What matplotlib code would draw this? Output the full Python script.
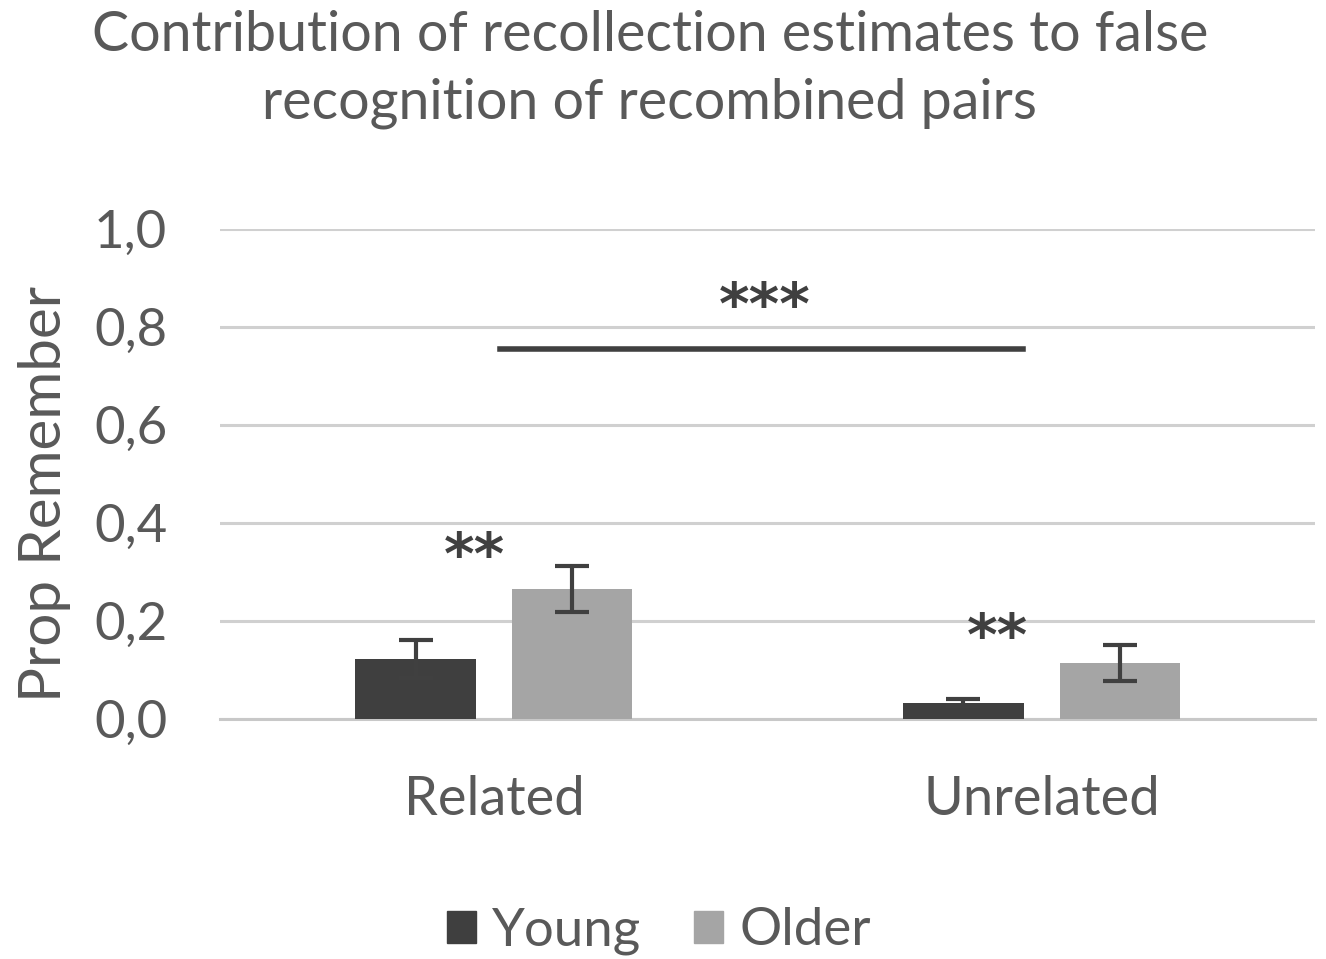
import matplotlib
matplotlib.use("Agg")
import matplotlib.pyplot as plt
import numpy as np
from matplotlib.patches import Patch

categories = ["Related", "Unrelated"]
young = [0.122, 0.033]
young_err = [0.039, 0.007]
older = [0.265, 0.114]
older_err = [0.047, 0.037]
yticks = [0.0, 0.2, 0.4, 0.6, 0.8, 1.0]
ytick_labels = ["0,0", "0,2", "0,4", "0,6", "0,8", "1,0"]

plt.rcParams['font.family'] = ['Lato', 'DejaVu Sans']
text_col = "#595959"

fig = plt.figure(figsize=(13.26, 9.59), dpi=100)
ax = fig.add_axes([0.166, 0.2503, 0.826, 0.5108])

x = np.arange(len(categories))
w = 0.22
off = 0.143
ax.bar(x - off, young, w, color="#3f3f3f", zorder=3)
ax.bar(x + off, older, w, color="#a5a5a5", zorder=3)
ax.errorbar(x - off, young, yerr=young_err, fmt="none", ecolor="#404040",
            elinewidth=3, capsize=12, capthick=3, zorder=4)
ax.errorbar(x + off, older, yerr=older_err, fmt="none", ecolor="#404040",
            elinewidth=3, capsize=12, capthick=3, zorder=4)

ax.set_xlim(-0.5, 1.5)
ax.set_ylim(0, 1.0)
ax.set_yticks(yticks)
ax.set_yticklabels(ytick_labels)
ax.set_xticks(x)
ax.set_xticklabels(categories)
ax.yaxis.grid(True, color="#d0d0d0", linewidth=2.2, zorder=0)
ax.set_axisbelow(True)
for s in ["top", "right", "left"]:
    ax.spines[s].set_visible(False)
ax.spines["bottom"].set_color("#c8c8c8")
ax.spines["bottom"].set_linewidth(2.2)
ax.tick_params(axis="y", length=0, labelsize=38, colors=text_col, pad=38)
ax.tick_params(axis="x", length=0, labelsize=39, colors=text_col, pad=40)
for lab in ax.get_xticklabels() + ax.get_yticklabels():
    lab.set_color(text_col)
ax.set_ylabel("Prop Remember", fontsize=42, color=text_col)
ax.yaxis.set_label_coords(-0.136, 0.46)

# significance annotations
ax.plot([0.011, 0.966], [0.755, 0.755], color="#404040", lw=4, zorder=5)
star_kw = dict(ha="center", va="center", color="#404040", fontweight="bold",
               family="DejaVu Sans")
ax.text(0.495, 0.84, "***", fontsize=42, **star_kw)
ax.text(-0.035, 0.33, "**", fontsize=42, **star_kw)
ax.text(0.92, 0.165, "**", fontsize=42, **star_kw)

fig.suptitle("Contribution of recollection estimates to false\nrecognition of recombined pairs",
             x=0.49, y=0.99, fontsize=40, color=text_col, linespacing=1.42)

handles = [Patch(color="#3f3f3f"), Patch(color="#a5a5a5")]
fig.legend(handles, ["Young", "Older"], loc="center", bbox_to_anchor=(0.497, 0.029),
           ncol=2, frameon=False, fontsize=38, handlelength=0.55, handleheight=0.55,
           handletextpad=0.3, columnspacing=1.0, labelcolor=text_col)

fig.savefig("out.png", dpi=100)
